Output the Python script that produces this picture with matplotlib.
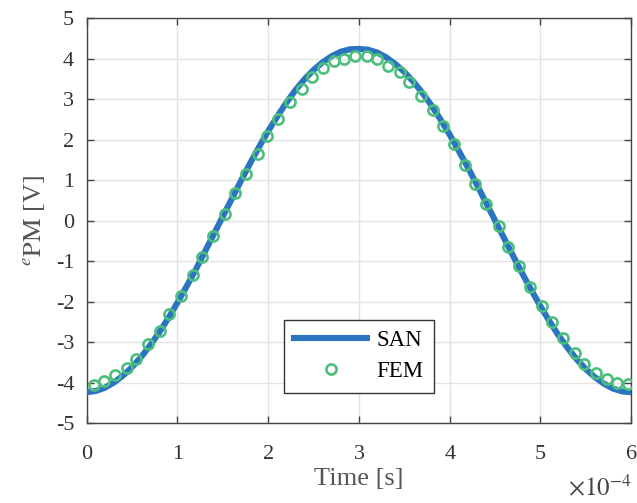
import matplotlib
matplotlib.use("Agg")
import matplotlib.pyplot as plt

plt.rcParams['font.family'] = ['Liberation Serif', 'DejaVu Serif']
plt.rcParams['mathtext.fontset'] = 'stix'
plt.rcParams['axes.unicode_minus'] = False

# SAN curve (time in units of 1e-4 s)
t_san = [0.0, 0.1, 0.2, 0.3, 0.4, 0.5, 0.6, 0.7, 0.8, 0.9, 1.0, 1.1, 1.2, 1.3, 1.4, 1.5,
         1.6, 1.7, 1.8, 1.9, 2.0, 2.1, 2.2, 2.3, 2.4, 2.5, 2.6, 2.7, 2.8, 2.9, 3.0,
         3.1, 3.2, 3.3, 3.4, 3.5, 3.6, 3.7, 3.8, 3.9, 4.0, 4.1, 4.2, 4.3, 4.4, 4.5,
         4.6, 4.7, 4.8, 4.9, 5.0, 5.1, 5.2, 5.3, 5.4, 5.5, 5.6, 5.7, 5.8, 5.9, 6.0]
e_san = [-4.24, -4.21, -4.13, -4.00, -3.83, -3.62, -3.37, -3.08, -2.76, -2.41, -2.03,
         -1.63, -1.22, -0.78, -0.34, 0.10, 0.54, 0.98, 1.41, 1.82, 2.21, 2.57, 2.91,
         3.22, 3.49, 3.72, 3.91, 4.06, 4.17, 4.23, 4.24,
         4.22, 4.15, 4.03, 3.87, 3.67, 3.43, 3.15, 2.84, 2.49, 2.12, 1.72, 1.31, 0.88,
         0.44, 0.00, -0.44, -0.88, -1.31, -1.72, -2.12, -2.49, -2.84, -3.15, -3.43,
         -3.67, -3.87, -4.03, -4.15, -4.22, -4.24]

# FEM samples
t_fem = [0.084, 0.194, 0.315, 0.444, 0.547, 0.673, 0.808, 0.911, 1.036, 1.169, 1.268, 1.396,
         1.528, 1.630, 1.756, 1.885, 1.988, 2.112, 2.245, 2.377, 2.481, 2.602, 2.727, 2.840,
         2.958, 3.087, 3.197, 3.325, 3.447, 3.553, 3.682, 3.815, 3.921, 4.042, 4.171, 4.273,
         4.402, 4.538, 4.637, 4.763, 4.888, 5.020, 5.127, 5.251, 5.380, 5.483, 5.607, 5.733,
         5.839, 5.965]
e_fem = [-4.05, -3.97, -3.81, -3.64, -3.41, -3.06, -2.73, -2.31, -1.86, -1.35, -0.89, -0.37,
         0.15, 0.67, 1.14, 1.65, 2.10, 2.51, 2.92, 3.25, 3.54, 3.77, 3.94, 4.00,
         4.06, 4.06, 4.00, 3.82, 3.66, 3.43, 3.07, 2.74, 2.34, 1.88, 1.37, 0.90,
         0.40, -0.13, -0.65, -1.12, -1.64, -2.10, -2.50, -2.89, -3.26, -3.54, -3.76, -3.92,
         -4.00, -4.04]

xticks = [0, 1, 2, 3, 4, 5, 6]
yticks = [-5, -4, -3, -2, -1, 0, 1, 2, 3, 4, 5]

fig = plt.figure(figsize=(6.37, 5.03), dpi=100)
ax = fig.add_axes([0.136, 0.159, 0.855, 0.805])

ax.plot(t_san, e_san, color='#2b74c2', lw=4.4, label='SAN', zorder=3,
        solid_joinstyle='round')
ax.plot(t_fem, e_fem, 'o', ms=7.3, mfc='none', mec='#4cbf7d', mew=1.9, label='FEM', zorder=4)

ax.set_xlim(0, 6)
ax.set_ylim(-5, 5)
ax.set_xticks(xticks)
ax.set_yticks(yticks)
ax.grid(True, color='#e3e3e3', lw=1.0)
ax.set_axisbelow(True)

for s in ax.spines.values():
    s.set_color('#444444')
    s.set_linewidth(1.0)
ax.tick_params(direction='in', length=5, width=1.0, colors='#444444', labelcolor='#333333',
               labelsize=16, top=True, right=True)
ax.tick_params(axis='x', pad=16)
ax.tick_params(axis='y', pad=9)

ax.set_xlabel('Time [s]', fontsize=19, color='#555555', labelpad=3)
ax.set_ylabel(r'$^{e}\mathrm{PM}$ [V]', fontsize=19, color='#555555', labelpad=6)
ax.text(1.0, -0.178, r'$\times10^{-4}$', transform=ax.transAxes, ha='right', va='baseline',
        fontsize=18, color='#444444')

leg = ax.legend(loc='lower center', bbox_to_anchor=(0.5, 0.075), fontsize=16.5,
                handlelength=3.2, handletextpad=0.4, borderpad=0.45, labelspacing=0.45,
                borderaxespad=0, fancybox=False, framealpha=1)
leg.get_frame().set_edgecolor('#333333')
leg.get_frame().set_linewidth(1.0)

fig.savefig('out.png', dpi=100)
